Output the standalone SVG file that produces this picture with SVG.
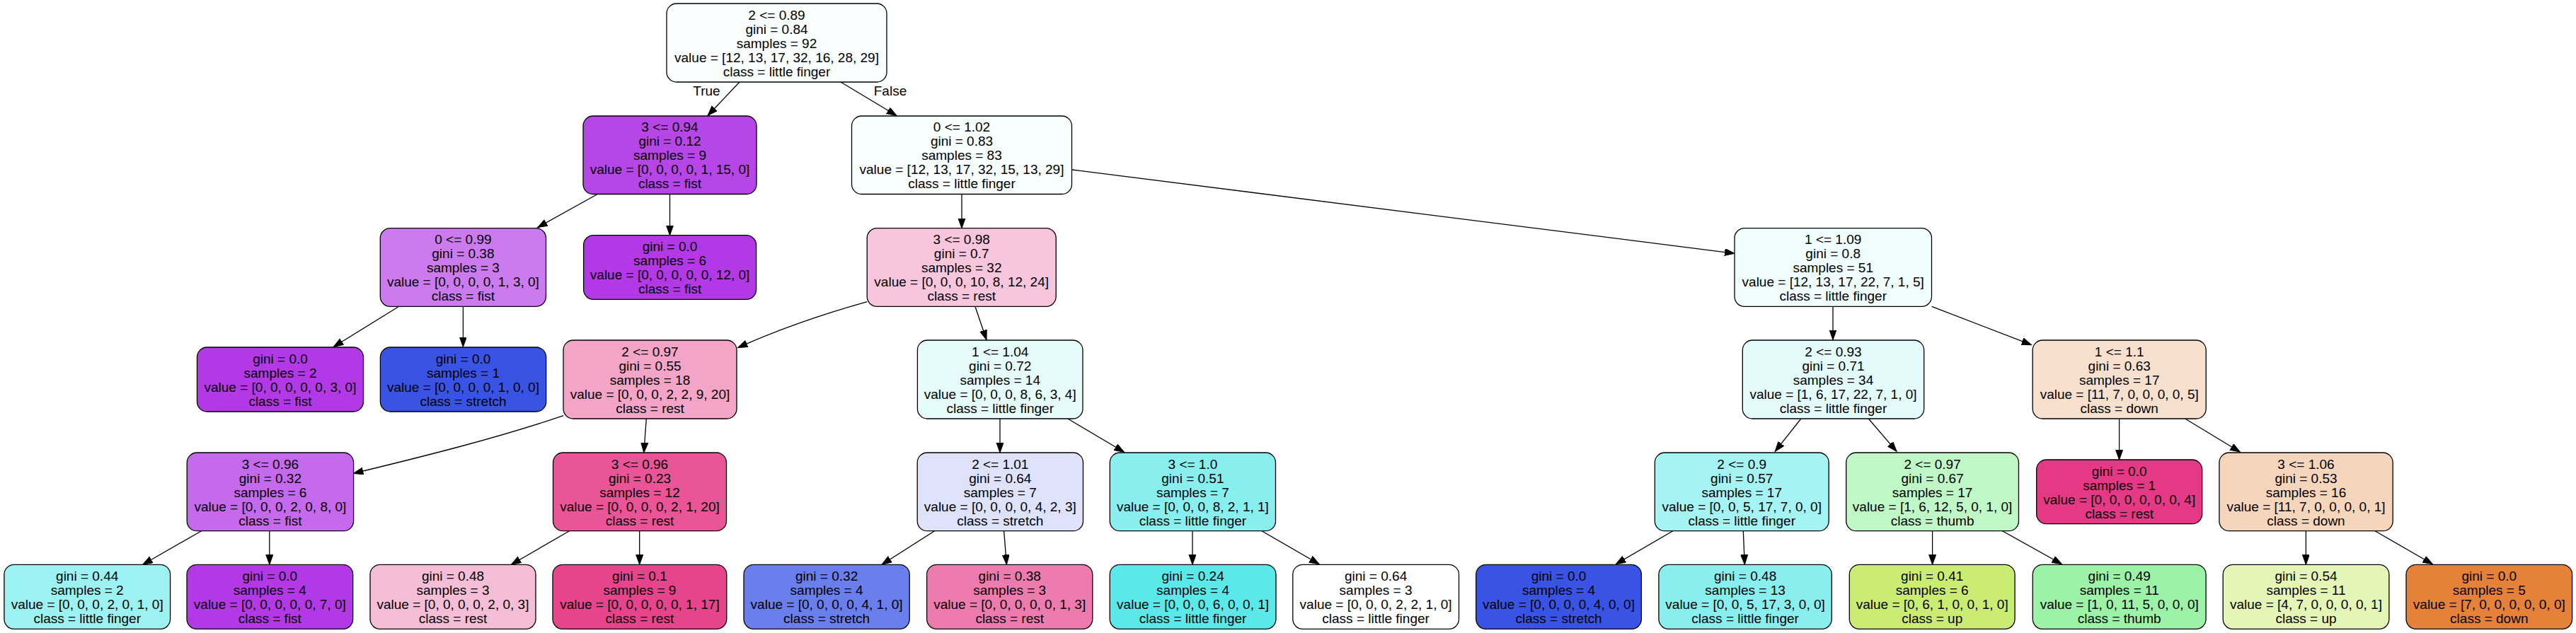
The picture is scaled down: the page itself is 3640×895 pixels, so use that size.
<svg xmlns="http://www.w3.org/2000/svg" width="3640" height="895" viewBox="0 0 3640 895">
<style>
.n rect{stroke:#000;stroke-width:1.3}
text{font-family:"Liberation Sans",Arial,Helvetica,sans-serif;font-size:19px;text-anchor:middle;fill:#000}
.e path{stroke:#000;stroke-width:1.3;fill:none;marker-end:url(#ah)}
</style>
<defs>
<marker id="ah" markerUnits="userSpaceOnUse" markerWidth="15" markerHeight="11" refX="14" refY="5" orient="auto">
<path d="M0,0 L14,5 L0,10 Z" fill="#000" stroke="#000" stroke-width="1"/>
</marker>
</defs>
<rect width="3640" height="895" fill="#fff"/>
<g id="edges" class="e">
<path d="M1045,116 L1000,163.5"/>
<path d="M1188,116 L1267,163.5"/>
<path d="M844.7,274.3 L759.6,321.7"/>
<path d="M946.5,274.3 L946.5,332.7"/>
<path d="M1359,274.3 L1359,322.7"/>
<path d="M1515,240 L2451,358.3"/>
<path d="M563.3,433.5 L471.2,490.5"/>
<path d="M654.4,433.5 L654.4,490.5"/>
<path d="M1225.2,426.7 C1160,445 1095,468 1042.5,491.7"/>
<path d="M1377.9,433.3 L1394,480.5"/>
<path d="M2590,433.3 L2590,480.5"/>
<path d="M2729.7,433.3 L2870.7,487.7"/>
<path d="M796.2,587.7 C700,620 600,645 499.5,669.3"/>
<path d="M913.3,592 L909.8,640"/>
<path d="M1413,592 L1413,640"/>
<path d="M1508.8,592 L1588.5,639.3"/>
<path d="M2544.9,592 L2508.2,638.3"/>
<path d="M2640.3,592 L2680.1,638.3"/>
<path d="M2994.6,592 L2994.6,650"/>
<path d="M3087.7,592 L3165.3,639"/>
<path d="M284.6,750.7 L201.7,798.3"/>
<path d="M380.8,750.7 L380.8,798.3"/>
<path d="M804.5,750.7 L722.4,798.3"/>
<path d="M903.7,750.7 L903.7,798.3"/>
<path d="M1320.5,750.7 L1246,798.3"/>
<path d="M1418.6,750.7 L1422.4,798.3"/>
<path d="M1685,750.7 L1685,798.3"/>
<path d="M1782.9,750.7 L1864.2,797.7"/>
<path d="M2363.8,750.7 L2283.2,797.7"/>
<path d="M2463.3,750.7 L2465.3,798.3"/>
<path d="M2730.6,750.7 L2730.6,798.3"/>
<path d="M2829.5,750.7 L2913.6,797.7"/>
<path d="M3258.4,750.7 L3258.4,798.3"/>
<path d="M3356,750.7 L3437.5,797.7"/>
<text x="998.5" y="135">True</text>
<text x="1258" y="135">False</text>
</g>
<g id="root" class="n"><rect x="942" y="5" width="311" height="111" rx="14" fill="#fafefe"/>
<text x="1097.5" y="27.5">2 &lt;= 0.89</text><text x="1097.5" y="47.5">gini = 0.84</text><text x="1097.5" y="67.5">samples = 92</text><text x="1097.5" y="87.5">value = [12, 13, 17, 32, 16, 28, 29]</text><text x="1097.5" y="107.5">class = little finger</text></g>
<g id="n1" class="n"><rect x="824" y="164" width="245" height="110.5" rx="14" fill="#b746e7"/>
<text x="946.5" y="186">3 &lt;= 0.94</text><text x="946.5" y="206">gini = 0.12</text><text x="946.5" y="226">samples = 9</text><text x="946.5" y="246">value = [0, 0, 0, 0, 1, 15, 0]</text><text x="946.5" y="266">class = fist</text></g>
<g id="n2" class="n"><rect x="1203.5" y="164" width="311" height="110.5" rx="14" fill="#f9fefe"/>
<text x="1359" y="186">0 &lt;= 1.02</text><text x="1359" y="206">gini = 0.83</text><text x="1359" y="226">samples = 83</text><text x="1359" y="246">value = [12, 13, 17, 32, 15, 13, 29]</text><text x="1359" y="266">class = little finger</text></g>
<g id="n3" class="n"><rect x="537.3" y="322.7" width="234.2" height="110.6" rx="14" fill="#cc7bee"/>
<text x="654.4" y="345">0 &lt;= 0.99</text><text x="654.4" y="365">gini = 0.38</text><text x="654.4" y="385">samples = 3</text><text x="654.4" y="405">value = [0, 0, 0, 0, 1, 3, 0]</text><text x="654.4" y="425">class = fist</text></g>
<g id="n4" class="n"><rect x="824.6" y="332.7" width="244" height="90.6" rx="14" fill="#b239e5"/>
<text x="946.6" y="355">gini = 0.0</text><text x="946.6" y="375">samples = 6</text><text x="946.6" y="395">value = [0, 0, 0, 0, 0, 12, 0]</text><text x="946.6" y="415">class = fist</text></g>
<g id="n5" class="n"><rect x="1225.2" y="322.7" width="267" height="110.6" rx="14" fill="#f8c6dc"/>
<text x="1358.7" y="345">3 &lt;= 0.98</text><text x="1358.7" y="365">gini = 0.7</text><text x="1358.7" y="385">samples = 32</text><text x="1358.7" y="405">value = [0, 0, 0, 10, 8, 12, 24]</text><text x="1358.7" y="425">class = rest</text></g>
<g id="n6" class="n"><rect x="2451" y="322.7" width="278.5" height="110.6" rx="14" fill="#effdfd"/>
<text x="2590.2" y="345">1 &lt;= 1.09</text><text x="2590.2" y="365">gini = 0.8</text><text x="2590.2" y="385">samples = 51</text><text x="2590.2" y="405">value = [12, 13, 17, 22, 7, 1, 5]</text><text x="2590.2" y="425">class = little finger</text></g>
<g id="n7" class="n"><rect x="278.5" y="491" width="235" height="91" rx="14" fill="#b239e5"/>
<text x="396" y="513.5">gini = 0.0</text><text x="396" y="533.5">samples = 2</text><text x="396" y="553.5">value = [0, 0, 0, 0, 0, 3, 0]</text><text x="396" y="573.5">class = fist</text></g>
<g id="n8" class="n"><rect x="537.4" y="491" width="234.3" height="91" rx="14" fill="#3954e5"/>
<text x="654.5" y="513.5">gini = 0.0</text><text x="654.5" y="533.5">samples = 1</text><text x="654.5" y="553.5">value = [0, 0, 0, 0, 1, 0, 0]</text><text x="654.5" y="573.5">class = stretch</text></g>
<g id="n9" class="n"><rect x="796" y="481" width="245" height="111" rx="14" fill="#f3a4c7"/>
<text x="918.5" y="503.5">2 &lt;= 0.97</text><text x="918.5" y="523.5">gini = 0.55</text><text x="918.5" y="543.5">samples = 18</text><text x="918.5" y="563.5">value = [0, 0, 0, 2, 2, 9, 20]</text><text x="918.5" y="583.5">class = rest</text></g>
<g id="n10" class="n"><rect x="1296.4" y="481" width="233.6" height="111" rx="14" fill="#e5fcfb"/>
<text x="1413.2" y="503.5">1 &lt;= 1.04</text><text x="1413.2" y="523.5">gini = 0.72</text><text x="1413.2" y="543.5">samples = 14</text><text x="1413.2" y="563.5">value = [0, 0, 0, 8, 6, 3, 4]</text><text x="1413.2" y="583.5">class = little finger</text></g>
<g id="n11" class="n"><rect x="2462.3" y="481" width="256.4" height="111" rx="14" fill="#e4fbfb"/>
<text x="2590.5" y="503.5">2 &lt;= 0.93</text><text x="2590.5" y="523.5">gini = 0.71</text><text x="2590.5" y="543.5">samples = 34</text><text x="2590.5" y="563.5">value = [1, 6, 17, 22, 7, 1, 0]</text><text x="2590.5" y="583.5">class = little finger</text></g>
<g id="n12" class="n"><rect x="2872.2" y="481" width="245" height="111" rx="14" fill="#f8e0ce"/>
<text x="2994.7" y="503.5">1 &lt;= 1.1</text><text x="2994.7" y="523.5">gini = 0.63</text><text x="2994.7" y="543.5">samples = 17</text><text x="2994.7" y="563.5">value = [11, 7, 0, 0, 0, 0, 5]</text><text x="2994.7" y="583.5">class = down</text></g>
<g id="n13" class="n"><rect x="264.2" y="640" width="235.4" height="110.7" rx="14" fill="#c56aec"/>
<text x="381.9" y="662.5">3 &lt;= 0.96</text><text x="381.9" y="682.5">gini = 0.32</text><text x="381.9" y="702.5">samples = 6</text><text x="381.9" y="722.5">value = [0, 0, 0, 2, 0, 8, 0]</text><text x="381.9" y="742.5">class = fist</text></g>
<g id="n14" class="n"><rect x="781.5" y="640" width="245" height="110.7" rx="14" fill="#e95596"/>
<text x="904" y="662.5">3 &lt;= 0.96</text><text x="904" y="682.5">gini = 0.23</text><text x="904" y="702.5">samples = 12</text><text x="904" y="722.5">value = [0, 0, 0, 0, 2, 1, 20]</text><text x="904" y="742.5">class = rest</text></g>
<g id="n15" class="n"><rect x="1296.2" y="640" width="234.3" height="110.7" rx="14" fill="#dee2fb"/>
<text x="1413.3" y="662.5">2 &lt;= 1.01</text><text x="1413.3" y="682.5">gini = 0.64</text><text x="1413.3" y="702.5">samples = 7</text><text x="1413.3" y="722.5">value = [0, 0, 0, 0, 4, 2, 3]</text><text x="1413.3" y="742.5">class = stretch</text></g>
<g id="n16" class="n"><rect x="1568.3" y="640" width="234.2" height="110.7" rx="14" fill="#88efee"/>
<text x="1685.4" y="662.5">3 &lt;= 1.0</text><text x="1685.4" y="682.5">gini = 0.51</text><text x="1685.4" y="702.5">samples = 7</text><text x="1685.4" y="722.5">value = [0, 0, 0, 8, 2, 1, 1]</text><text x="1685.4" y="742.5">class = little finger</text></g>
<g id="n17" class="n"><rect x="2338.3" y="640" width="245.9" height="110.7" rx="14" fill="#a5f3f2"/>
<text x="2461.2" y="662.5">2 &lt;= 0.9</text><text x="2461.2" y="682.5">gini = 0.57</text><text x="2461.2" y="702.5">samples = 17</text><text x="2461.2" y="722.5">value = [0, 0, 5, 17, 7, 0, 0]</text><text x="2461.2" y="742.5">class = little finger</text></g>
<g id="n18" class="n"><rect x="2608.7" y="640" width="243.8" height="110.7" rx="14" fill="#c0f7c7"/>
<text x="2730.6" y="662.5">2 &lt;= 0.97</text><text x="2730.6" y="682.5">gini = 0.67</text><text x="2730.6" y="702.5">samples = 17</text><text x="2730.6" y="722.5">value = [1, 6, 12, 5, 0, 1, 0]</text><text x="2730.6" y="742.5">class = thumb</text></g>
<g id="n19" class="n"><rect x="2877.7" y="650" width="234" height="90.7" rx="14" fill="#e53985"/>
<text x="2994.7" y="672.5">gini = 0.0</text><text x="2994.7" y="692.5">samples = 1</text><text x="2994.7" y="712.5">value = [0, 0, 0, 0, 0, 0, 4]</text><text x="2994.7" y="732.5">class = rest</text></g>
<g id="n20" class="n"><rect x="3135.9" y="640" width="245.3" height="110.7" rx="14" fill="#f6d5bd"/>
<text x="3258.5" y="662.5">3 &lt;= 1.06</text><text x="3258.5" y="682.5">gini = 0.53</text><text x="3258.5" y="702.5">samples = 16</text><text x="3258.5" y="722.5">value = [11, 7, 0, 0, 0, 0, 1]</text><text x="3258.5" y="742.5">class = down</text></g>
<g id="l1" class="n"><rect x="5.9" y="798.3" width="234.7" height="91" rx="14" fill="#9cf2f1"/>
<text x="123.2" y="820.8">gini = 0.44</text><text x="123.2" y="840.8">samples = 2</text><text x="123.2" y="860.8">value = [0, 0, 0, 2, 0, 1, 0]</text><text x="123.2" y="880.8">class = little finger</text></g>
<g id="l2" class="n"><rect x="264" y="798.3" width="234.7" height="91" rx="14" fill="#b239e5"/>
<text x="381.3" y="820.8">gini = 0.0</text><text x="381.3" y="840.8">samples = 4</text><text x="381.3" y="860.8">value = [0, 0, 0, 0, 0, 7, 0]</text><text x="381.3" y="880.8">class = fist</text></g>
<g id="l3" class="n"><rect x="523" y="798.3" width="234" height="91" rx="14" fill="#f6bdd6"/>
<text x="640" y="820.8">gini = 0.48</text><text x="640" y="840.8">samples = 3</text><text x="640" y="860.8">value = [0, 0, 0, 0, 2, 0, 3]</text><text x="640" y="880.8">class = rest</text></g>
<g id="l4" class="n"><rect x="781" y="798.3" width="245.8" height="91" rx="14" fill="#e6458c"/>
<text x="903.9" y="820.8">gini = 0.1</text><text x="903.9" y="840.8">samples = 9</text><text x="903.9" y="860.8">value = [0, 0, 0, 0, 0, 1, 17]</text><text x="903.9" y="880.8">class = rest</text></g>
<g id="l5" class="n"><rect x="1051" y="798.3" width="234.2" height="91" rx="14" fill="#6a7fec"/>
<text x="1168.1" y="820.8">gini = 0.32</text><text x="1168.1" y="840.8">samples = 4</text><text x="1168.1" y="860.8">value = [0, 0, 0, 0, 4, 1, 0]</text><text x="1168.1" y="880.8">class = stretch</text></g>
<g id="l6" class="n"><rect x="1309.6" y="798.3" width="234.2" height="91" rx="14" fill="#ee7bae"/>
<text x="1426.7" y="820.8">gini = 0.38</text><text x="1426.7" y="840.8">samples = 3</text><text x="1426.7" y="860.8">value = [0, 0, 0, 0, 0, 1, 3]</text><text x="1426.7" y="880.8">class = rest</text></g>
<g id="l7" class="n"><rect x="1568.2" y="798.3" width="234.8" height="91" rx="14" fill="#5ae9e8"/>
<text x="1685.6" y="820.8">gini = 0.24</text><text x="1685.6" y="840.8">samples = 4</text><text x="1685.6" y="860.8">value = [0, 0, 0, 6, 0, 0, 1]</text><text x="1685.6" y="880.8">class = little finger</text></g>
<g id="l8" class="n"><rect x="1826.8" y="798.3" width="234.7" height="91" rx="14" fill="#ffffff"/>
<text x="1944.1" y="820.8">gini = 0.64</text><text x="1944.1" y="840.8">samples = 3</text><text x="1944.1" y="860.8">value = [0, 0, 0, 2, 2, 1, 0]</text><text x="1944.1" y="880.8">class = little finger</text></g>
<g id="l9" class="n"><rect x="2085.7" y="798.3" width="233.7" height="91" rx="14" fill="#3954e5"/>
<text x="2202.5" y="820.8">gini = 0.0</text><text x="2202.5" y="840.8">samples = 4</text><text x="2202.5" y="860.8">value = [0, 0, 0, 0, 4, 0, 0]</text><text x="2202.5" y="880.8">class = stretch</text></g>
<g id="l10" class="n"><rect x="2343.9" y="798.3" width="244.4" height="91" rx="14" fill="#88efee"/>
<text x="2466.1" y="820.8">gini = 0.48</text><text x="2466.1" y="840.8">samples = 13</text><text x="2466.1" y="860.8">value = [0, 0, 5, 17, 3, 0, 0]</text><text x="2466.1" y="880.8">class = little finger</text></g>
<g id="l11" class="n"><rect x="2613.3" y="798.3" width="233.8" height="91" rx="14" fill="#cbec72"/>
<text x="2730.2" y="820.8">gini = 0.41</text><text x="2730.2" y="840.8">samples = 6</text><text x="2730.2" y="860.8">value = [0, 6, 1, 0, 0, 1, 0]</text><text x="2730.2" y="880.8">class = up</text></g>
<g id="l12" class="n"><rect x="2872.3" y="798.3" width="244.8" height="91" rx="14" fill="#9cf2a7"/>
<text x="2994.7" y="820.8">gini = 0.49</text><text x="2994.7" y="840.8">samples = 11</text><text x="2994.7" y="860.8">value = [1, 0, 11, 5, 0, 0, 0]</text><text x="2994.7" y="880.8">class = thumb</text></g>
<g id="l13" class="n"><rect x="3141.2" y="798.3" width="234.7" height="91" rx="14" fill="#e4f5b5"/>
<text x="3258.5" y="820.8">gini = 0.54</text><text x="3258.5" y="840.8">samples = 11</text><text x="3258.5" y="860.8">value = [4, 7, 0, 0, 0, 0, 1]</text><text x="3258.5" y="880.8">class = up</text></g>
<g id="l14" class="n"><rect x="3400" y="798.3" width="234.6" height="91" rx="14" fill="#e58139"/>
<text x="3517.3" y="820.8">gini = 0.0</text><text x="3517.3" y="840.8">samples = 5</text><text x="3517.3" y="860.8">value = [7, 0, 0, 0, 0, 0, 0]</text><text x="3517.3" y="880.8">class = down</text></g>
</svg>
